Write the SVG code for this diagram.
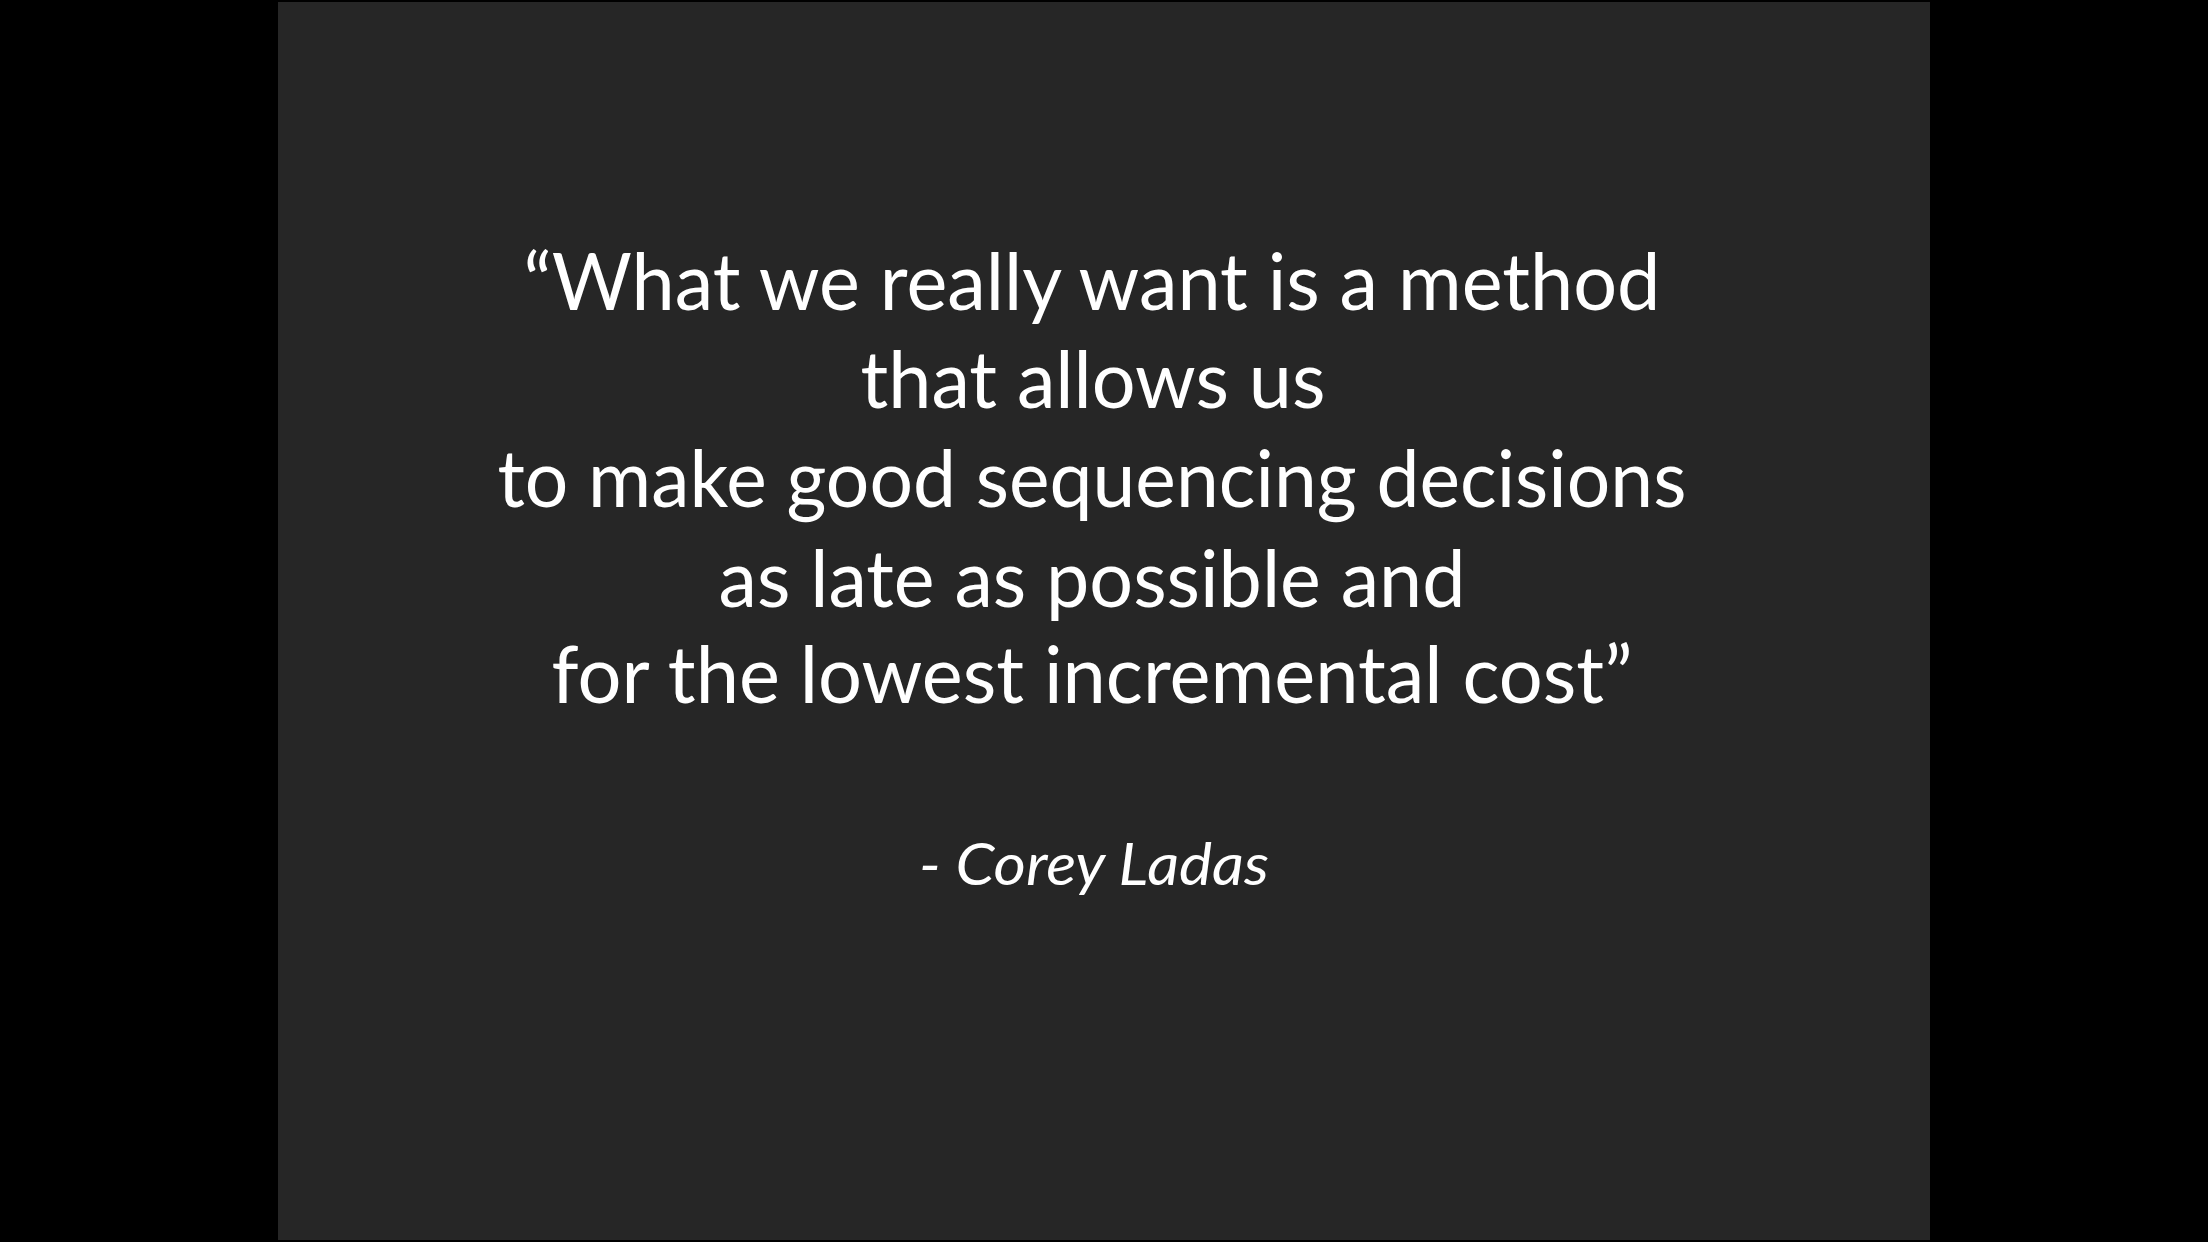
<svg xmlns="http://www.w3.org/2000/svg" width="2208" height="1242" viewBox="0 0 2208 1242">
<style>
.q{font-family:Lato,"Open Sans","Liberation Sans",sans-serif;font-size:80px;fill:#ffffff;text-anchor:middle}
.a{font-family:Lato,"Open Sans","Liberation Sans",sans-serif;font-size:58px;font-style:italic;fill:#ffffff;text-anchor:middle}
</style>
<rect x="0" y="0" width="2208" height="1242" fill="#000000"/>
<rect x="278" y="2" width="1652" height="1238" fill="#262626"/>
<g id="quote">
<text class="q" x="1092" y="310" textLength="1137" lengthAdjust="spacingAndGlyphs">“What we really want is a method</text>
<text class="q" x="1093" y="408" textLength="465" lengthAdjust="spacingAndGlyphs">that allows us</text>
<text class="q" x="1092" y="507" textLength="1189" lengthAdjust="spacingAndGlyphs">to make good sequencing decisions</text>
<text class="q" x="1092" y="607" textLength="747" lengthAdjust="spacingAndGlyphs">as late as possible and</text>
<text class="q" x="1092" y="703" textLength="1081" lengthAdjust="spacingAndGlyphs">for the lowest incremental cost”</text>
</g>
<g id="author">
<text class="a" x="1094" y="885" textLength="350" lengthAdjust="spacingAndGlyphs">- Corey Ladas</text>
</g>
</svg>
